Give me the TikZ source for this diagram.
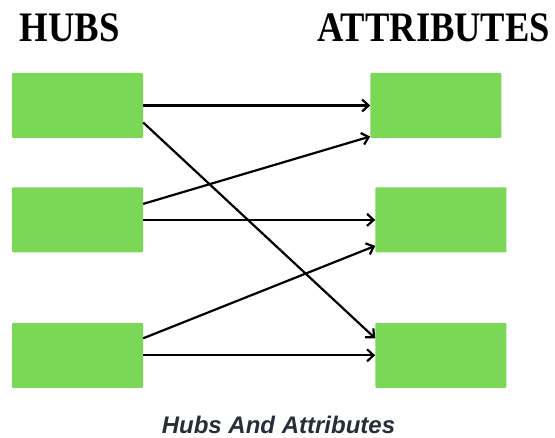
\documentclass[tikz,border=0pt]{standalone}
\usepackage{fontspec}
\newfontfamily\headfont{Liberation Serif}
\newfontfamily\capfont{Liberation Sans}
\usetikzlibrary{positioning,arrows.meta}
\definecolor{boxgreen}{RGB}{122,216,86}
\definecolor{capgray}{RGB}{40,46,56}

\begin{document}
\begin{tikzpicture}[
  x=1pt, y=-1pt,
  node distance=49pt and 227pt,
  box/.style={fill=boxgreen, rounded corners=1pt, minimum width=131pt,
              minimum height=65pt, inner sep=0pt},
  head/.style={font=\headfont\bfseries\fontsize{42}{42}\selectfont,
               inner sep=0pt, anchor=base west},
  link/.style={->, line width=2.2pt},
  >={Straight Barb[length=6.5pt,width=12pt]}
]
\useasboundingbox (0,0) rectangle (555,438);

\node[head] (hubs) at (19.5,42) {\scalebox{.875}[1]{HUBS}};
\node[head] (attr) at (317,42) {\scalebox{.87}[1]{ATTRIBUTES}};

% hubs on the left, attributes on the right
\node[box] (h1) at (77.5,105.5) {};
\node[box, below=of h1] (h2) {};
\node[box, below=70pt of h2] (h3) {};
\node[box, right=of h1] (a1) {};
\node[box, right=232pt of h2] (a2) {};
\node[box, right=232pt of h3] (a3) {};

\draw[link] (h1.east) -- (a1.west);
\draw[link] ([yshift=-17pt]h1.east) -- ([yshift=17pt]a3.west);
\draw[link] ([yshift=16pt]h2.east) -- ([yshift=-31pt]a1.west);
\draw[link] (h2.east) -- (a2.west);
\draw[link] ([yshift=17pt]h3.east) -- ([yshift=-26pt]a2.west);
\draw[link] (h3.east) -- (a3.west);

\node[font=\capfont\bfseries\itshape\fontsize{24}{24}\selectfont,
      text=capgray, anchor=base] (cap) at (278.5,434) {Hubs And Attributes};
\end{tikzpicture}
\end{document}
